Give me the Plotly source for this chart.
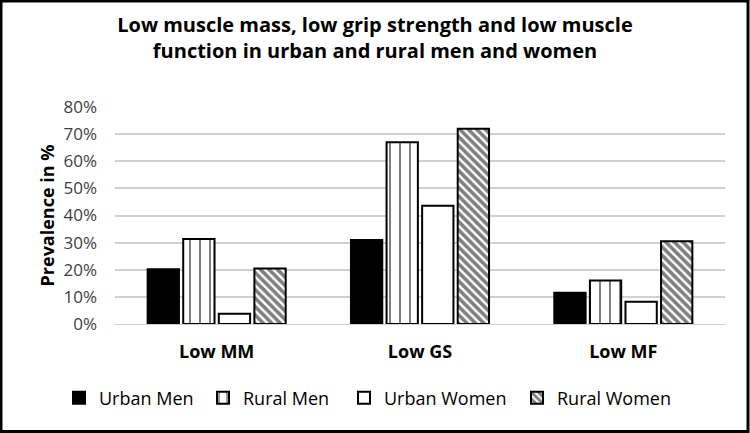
import plotly.graph_objects as go

categories = ["Low MM", "Low GS", "Low MF"]
series_names = ["Urban Men", "Rural Men", "Urban Women", "Rural Women"]
urban_men = [20.2, 31.0, 11.5]
rural_men = [31.3, 67.0, 16.0]
urban_women = [3.8, 43.6, 8.2]
rural_women = [20.5, 72.0, 30.5]
y_ticks = [0, 10, 20, 30, 40, 50, 60, 70, 80]
y_tick_labels = [f"{v}%" for v in y_ticks]

styles = [
    dict(color="black", pattern=dict(shape="")),
    dict(color="white", pattern=dict(shape="|", fgcolor="black", bgcolor="white", size=10, solidity=0.2)),
    dict(color="white", pattern=dict(shape="")),
    dict(color="white", pattern=dict(shape="\\", fgcolor="black", bgcolor="white", size=6, solidity=0.6)),
]

L, R, T, B = 115, 25, 107, 109
W, H = 750, 433
pw, ph = W - L - R, H - T - B

# legend text start positions (px) in the reference
legend_text_px = [97, 241, 382, 555]
legend_names = ["legend", "legend2", "legend3", "legend4"]

fig = go.Figure()
for name, vals, st, lg in zip(series_names, [urban_men, rural_men, urban_women, rural_women], styles, legend_names):
    fig.add_trace(go.Bar(
        x=categories, y=vals, name=name, legend=lg,
        marker=dict(color=st["color"], pattern=st["pattern"], line=dict(color="black", width=2)),
    ))

legend_layout = {}
for lg, tx in zip(legend_names, legend_text_px):
    legend_layout[lg] = dict(
        x=(tx - 38 - L) / pw, xanchor="left", y=(T + ph - 398) / ph, yanchor="middle",
        orientation="h", font=dict(size=18, color="black"), itemwidth=30,
        bgcolor="rgba(0,0,0,0)",
    )

fig.update_layout(
    width=W, height=H,
    paper_bgcolor="white", plot_bgcolor="white",
    margin=dict(l=L, r=R, t=T, b=B),
    barmode="group", bargap=0.3, bargroupgap=0.12,
    font=dict(family="Open Sans, Liberation Sans, sans-serif", color="#404040"),
    title=dict(
        text="<b>Low muscle mass, low grip strength and low muscle<br>function in urban and rural men and women</b>",
        x=0.5, xanchor="center", y=0.926, yanchor="top",
        font=dict(size=20, color="black"),
    ),
    showlegend=True,
    **legend_layout,
)
fig.update_xaxes(showline=True, linecolor="#d0d0d0", linewidth=1,
                 tickfont=dict(size=18, color="black"),
                 ticks="", ticklabelstandoff=11,
                 tickvals=categories, ticktext=[f"<b>{c}</b>" for c in categories])
fig.update_yaxes(range=[0, 80], tickvals=y_ticks, ticktext=y_tick_labels,
                 showgrid=True, gridcolor="#d0d0d0", gridwidth=1.5, zeroline=False,
                 tickfont=dict(size=17, color="#404040"), ticklabelstandoff=17,
                 title=dict(text="<b>Prevalence in %</b>", font=dict(size=18, color="black"), standoff=4))

# outer frame of image
fig.add_shape(type="rect", xref="paper", yref="paper",
              x0=-114 / pw, x1=1 + 23 / pw, y0=-107.5 / ph, y1=1 + 106 / ph,
              line=dict(color="black", width=3), fillcolor="rgba(0,0,0,0)", layer="above")

fig.write_html("out.html", config={"displayModeBar": False},
               post_script="document.body.style.margin='0';")
